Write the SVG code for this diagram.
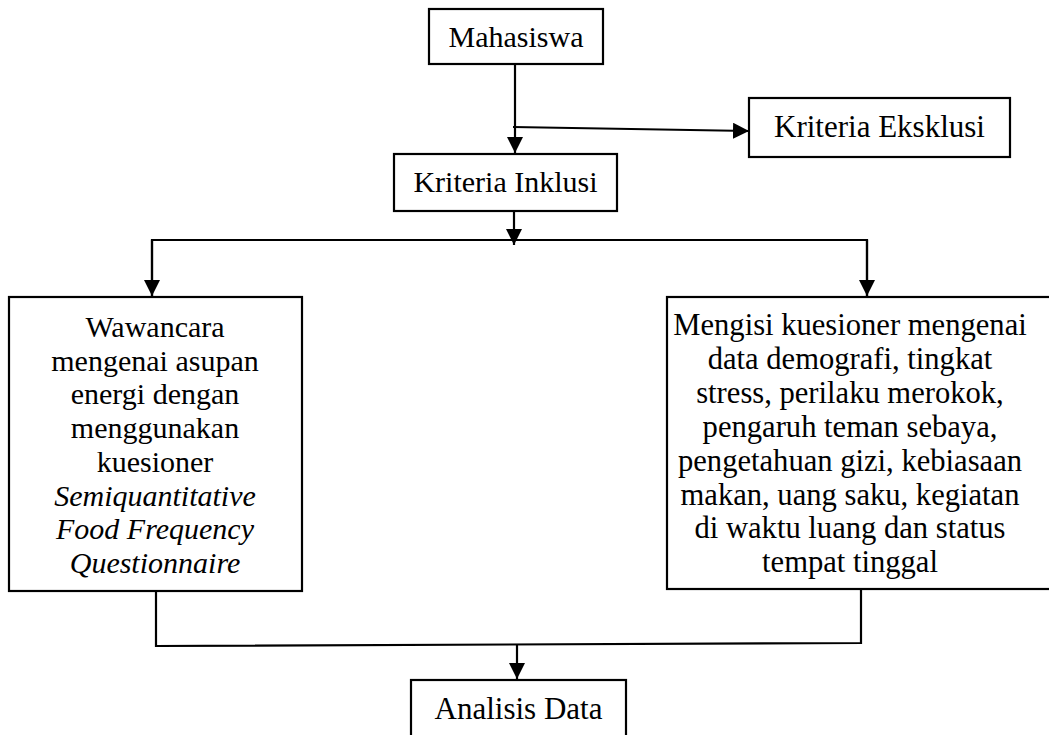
<svg xmlns="http://www.w3.org/2000/svg" width="1049" height="735" viewBox="0 0 1049 735">
<style>
.box{fill:#fff;stroke:#000;stroke-width:2.2}
.ln{fill:none;stroke:#000;stroke-width:2.2}
.t{font-family:"Liberation Serif","Times New Roman",serif;font-size:30px;fill:#000;text-anchor:middle}
.it{font-style:italic}
.r{font-size:30.6px}
</style>
<defs>
<marker id="ah" markerUnits="userSpaceOnUse" markerWidth="16" markerHeight="16" refX="15" refY="7.5" orient="auto" viewBox="0 0 15 15">
<path d="M0,0 L15,7.5 L0,15 z" fill="#000"/>
</marker>
</defs>
<g id="connectors">
<line class="ln" x1="515" y1="64" x2="515" y2="153" marker-end="url(#ah)"/>
<line class="ln" x1="513" y1="127" x2="749" y2="131" marker-end="url(#ah)"/>
<line class="ln" x1="514" y1="211" x2="514" y2="245" marker-end="url(#ah)"/>
<polyline class="ln" points="152,296 152,240 867,240 867,296"/>
<line class="ln" x1="152" y1="240" x2="152" y2="296" marker-end="url(#ah)"/>
<line class="ln" x1="867" y1="240" x2="867" y2="296" marker-end="url(#ah)"/>
<polyline class="ln" points="156,586 156,646 861,643 861,589"/>
<line class="ln" x1="517" y1="644" x2="517" y2="679" marker-end="url(#ah)"/>
</g>
<g id="mahasiswa">
<rect class="box" x="429" y="9" width="174" height="55"/>
<text class="t" x="516" y="47">Mahasiswa</text>
</g>
<g id="kriteria-eksklusi">
<rect class="box" x="749" y="98" width="261" height="59"/>
<text class="t" x="879.5" y="137" style="font-size:31px">Kriteria Eksklusi</text>
</g>
<g id="kriteria-inklusi">
<rect class="box" x="394" y="154" width="223" height="57"/>
<text class="t" x="505.5" y="192">Kriteria Inklusi</text>
</g>
<g id="wawancara">
<rect class="box" x="9" y="297" width="293" height="294"/>
<text class="t" x="155" y="337">Wawancara</text>
<text class="t" x="155" y="370.7">mengenai asupan</text>
<text class="t" x="155" y="404.4">energi dengan</text>
<text class="t" x="155" y="438.1">menggunakan</text>
<text class="t" x="155" y="471.8">kuesioner</text>
<text class="t it" x="155" y="505.5">Semiquantitative</text>
<text class="t it" x="155" y="539.2">Food Frequency</text>
<text class="t it" x="155" y="572.9">Questionnaire</text>
</g>
<g id="kuesioner">
<rect class="box" x="667" y="297" width="395" height="292"/>
<text class="t r" x="850" y="335">Mengisi kuesioner mengenai</text>
<text class="t r" x="850" y="368.9">data demografi, tingkat</text>
<text class="t r" x="850" y="402.8">stress, perilaku merokok,</text>
<text class="t r" x="850" y="436.7">pengaruh teman sebaya,</text>
<text class="t r" x="850" y="470.6">pengetahuan gizi, kebiasaan</text>
<text class="t r" x="850" y="504.5">makan, uang saku, kegiatan</text>
<text class="t r" x="850" y="538.4">di waktu luang dan status</text>
<text class="t r" x="850" y="572.3">tempat tinggal</text>
</g>
<g id="analisis-data">
<rect class="box" x="411" y="680" width="215" height="70"/>
<text class="t" x="518.5" y="719" style="font-size:31px">Analisis Data</text>
</g>
</svg>
